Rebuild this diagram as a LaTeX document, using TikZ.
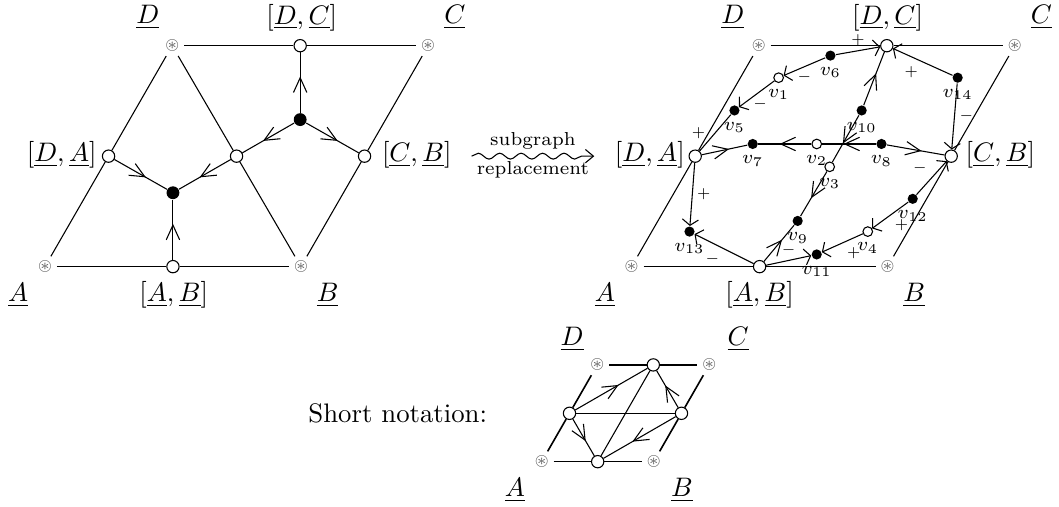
\documentclass[tikz,border=0pt]{standalone}
\usepackage{amssymb}
\usetikzlibrary{arrows.meta,decorations.markings,decorations.pathmorphing}

\begin{document}
\begin{tikzpicture}[wnode/.style={circle,draw,fill=white,inner sep=0pt,minimum size=4.6pt},
            vwhite/.style={circle,draw,fill=white,inner sep=0pt,minimum size=3.6pt},
            bnode/.style={circle,fill=black,inner sep=0pt,minimum size=4.8pt},
            vblack/.style={circle,fill=black,inner sep=0pt,minimum size=3.8pt},
            corner/.style={circle,inner sep=0pt,minimum size=8.5pt,text=black!65,
               font=\fontsize{6}{6}\selectfont},
            vlabel/.style={font=\scriptsize,inner sep=1pt,label distance=1pt},
            sign/.style={font=\tiny,inner sep=1.5pt},
            flow/.style={postaction={decorate},decoration={markings,
               mark=at position 0.6 with {\arrow{Straight Barb[length=5.5pt,width=5pt]}}}},
            tip/.style={-{Straight Barb[length=2.2pt,width=6pt]}},
            outer/.style={thin}
         ]
      \useasboundingbox (0,0) rectangle (13.90,6.65);

      % before
      \node[corner] (A) at (0.59, 3.15) {$\circledast$};
      \node[corner] (B) at (3.95, 3.15) {$\circledast$};
      \node[corner] (C) at (5.62, 6.05) {$\circledast$};
      \node[corner] (D) at (2.26, 6.05) {$\circledast$};
      \node[wnode] (DA) at (1.425, 4.60) {};
      \node[wnode] (DB) at (3.105, 4.60) {};
      \node[wnode] (CB) at (4.785, 4.60) {};
      \node[wnode] (DC) at (3.94, 6.05) {};
      \node[wnode] (AB) at (2.27, 3.15) {};
      \node[bnode] (up) at (3.94, 5.08) {};
      \node[bnode] (lo) at (2.27, 4.12) {};

      \node (lD) at (1.94, 6.42) {$\underline{D}$};
      \node (lDC) at (3.96, 6.42) {$[\underline{D},\underline{C}]$};
      \node (lC) at (5.97, 6.42) {$\underline{C}$};
      \node (lDA) at (0.81, 4.62) {$[\underline{D},\underline{A}]$};
      \node (lCB) at (5.47, 4.62) {$[\underline{C},\underline{B}]$};
      \node (lA) at (0.24, 2.78) {$\underline{A}$};
      \node (lAB) at (2.28, 2.78) {$[\underline{A},\underline{B}]$};
      \node (lB) at (4.30, 2.78) {$\underline{B}$};

      \draw[outer] (D) -- (DC) -- (C);
      \draw[outer] (A) -- (AB) -- (B);
      \draw[outer] (D) -- (DA) -- (A);
      \draw[outer] (D) -- (DB) -- (B);
      \draw[outer] (C) -- (CB) -- (B);

      \draw[flow] (DA) -- (lo);
      \draw[flow] (DB) -- (lo);
      \draw[flow] (AB) -- (lo);
      \draw[flow] (up) -- (DC);
      \draw[flow] (up) -- (DB);
      \draw[flow] (up) -- (CB);

      % replacement arrow
      \coordinate (sq1) at (6.19, 4.60);
      \coordinate (sq2) at (7.80, 4.60);
      \draw[-{Straight Barb[length=3pt,width=5pt]},decorate,
            decoration={snake,amplitude=1.1pt,segment length=8pt,post length=3pt}]
            (sq1) -- (sq2)
            node[midway,above=-1pt,font=\scriptsize] (sub) {subgraph}
            node[midway,below=-1.5pt,font=\scriptsize] (rep) {replacement};

      % after
      \begin{scope}[xshift=7.70cm]
      \node[corner] (rA) at (0.59, 3.15) {$\circledast$};
      \node[corner] (rB) at (3.95, 3.15) {$\circledast$};
      \node[corner] (rC) at (5.62, 6.05) {$\circledast$};
      \node[corner] (rD) at (2.26, 6.05) {$\circledast$};
      \node[wnode] (rDA) at (1.425, 4.60) {};
      \node[wnode] (rCB) at (4.785, 4.60) {};
      \node[wnode] (rDC) at (3.94, 6.05) {};
      \node[wnode] (rAB) at (2.27, 3.15) {};

      \node (rlD) at (1.92, 6.42) {$\underline{D}$};
      \node (rlDC) at (3.95, 6.42) {$[\underline{D},\underline{C}]$};
      \node (rlC) at (5.97, 6.42) {$\underline{C}$};
      \node (rlDA) at (0.83, 4.62) {$[\underline{D},\underline{A}]$};
      \node (rlCB) at (5.43, 4.62) {$[\underline{C},\underline{B}]$};
      \node (rlA) at (0.24, 2.78) {$\underline{A}$};
      \node (rlAB) at (2.27, 2.78) {$[\underline{A},\underline{B}]$};
      \node (rlB) at (4.30, 2.78) {$\underline{B}$};

      \node[vwhite,label={[vlabel]below:$v_1$}] (v1) at (2.52, 5.63) {};
      \node[vwhite,label={[vlabel]below:$v_2$}] (v2) at (3.02, 4.76) {};
      \node[vwhite,label={[vlabel]below:$v_3$}] (v3) at (3.19, 4.46) {};
      \node[vwhite,label={[vlabel]below:$v_4$}] (v4) at (3.69, 3.61) {};
      \node[vblack,label={[vlabel]below:$v_5$}] (v5) at (1.94, 5.20) {};
      \node[vblack,label={[vlabel]below:$v_6$}] (v6) at (3.20, 5.92) {};
      \node[vblack,label={[vlabel]below:$v_7$}] (v7) at (2.18, 4.76) {};
      \node[vblack,label={[vlabel]below:$v_8$}] (v8) at (3.87, 4.76) {};
      \node[vblack,label={[vlabel]below:$v_9$}] (v9) at (2.77, 3.75) {};
      \node[vblack,label={[vlabel]below:$v_{10}$}] (v10) at (3.61, 5.20) {};
      \node[vblack,label={[vlabel]below:$v_{11}$}] (v11) at (3.02, 3.31) {};
      \node[vblack,label={[vlabel]below:$v_{12}$}] (v12) at (4.28, 4.04) {};
      \node[vblack,label={[vlabel]below:$v_{13}$}] (v13) at (1.35, 3.61) {};
      \node[vblack,label={[vlabel]below:$v_{14}$}] (v14) at (4.87, 5.63) {};

      \draw[outer] (rD) -- (rDC) -- (rC);
      \draw[outer] (rA) -- (rAB) -- (rB);
      \draw[outer] (rD) -- (rDA) -- (rA);
      \draw[outer] (rC) -- (rCB) -- (rB);

      % signed cycle
      \draw (rDA) -- node[sign,left=2pt] {$+$} (v5);
      \draw[tip] (v1) -- node[sign,pos=0.4,below=1pt] {$-$} (v5);
      \draw[tip] (v6) -- node[sign,below] {$-$} (v1);
      \draw[tip] (v6) -- node[sign,above=0pt] {$+$} (rDC);
      \draw[tip] (v14) -- node[sign,below left] {$+$} (rDC);
      \draw[tip] (v14) -- node[sign,right] {$-$} (rCB);
      \draw[tip] (v12) -- node[sign,above left] {$-$} (rCB);
      \draw[tip] (v12) -- node[sign,below right] {$+$} (v4);
      \draw[tip] (v4) -- node[sign,below right] {$+$} (v11);
      \draw[tip] (rAB) -- node[sign,above] {$-$} (v11);
      \draw[tip] (rAB) -- node[sign,below left] {$-$} (v13);
      \draw[tip] (rDA) -- node[sign,right] {$+$} (v13);

      % flow
      \draw[flow] (rDA) -- (v7);
      \draw[flow] (v2) -- (v7);
      \draw[flow] (v8) -- (v2);
      \draw[flow] (v8) -- (rCB);
      \draw[flow] (v10) -- (rDC);
      \draw[flow] (v10) -- (v3);
      \draw[flow] (v3) -- (v9);
      \draw[flow] (rAB) -- (v9);
      \end{scope}

      % short notation
      \node (short) at (5.22, 1.23) {Short notation:};
      \node[corner] (sA) at (7.11, 0.59) {$\circledast$};
      \node[corner] (sB) at (8.58, 0.59) {$\circledast$};
      \node[corner] (sC) at (9.31, 1.86) {$\circledast$};
      \node[corner] (sD) at (7.84, 1.86) {$\circledast$};
      \node[wnode] (sDA) at (7.475, 1.225) {};
      \node[wnode] (sCB) at (8.945, 1.225) {};
      \node[wnode] (sDC) at (8.575, 1.86) {};
      \node[wnode] (sAB) at (7.845, 0.59) {};
      \node (slD) at (7.51, 2.20) {$\underline{D}$};
      \node (slC) at (9.69, 2.20) {$\underline{C}$};
      \node (slA) at (6.76, 0.22) {$\underline{A}$};
      \node (slB) at (8.95, 0.22) {$\underline{B}$};

      \draw[semithick] (sD) -- (sDC) -- (sC);
      \draw[semithick] (sA) -- (sAB) -- (sB);
      \draw[semithick] (sD) -- (sDA) -- (sA);
      \draw[semithick] (sC) -- (sCB) -- (sB);
      \draw (sDA) -- (sCB);
      \draw (sAB) -- (sDC);
      \draw[flow] (sDA) -- (sDC);
      \draw[flow] (sCB) -- (sDC);
      \draw[flow] (sDA) -- (sAB);
      \draw[flow] (sCB) -- (sAB);

   \end{tikzpicture}
\end{document}
